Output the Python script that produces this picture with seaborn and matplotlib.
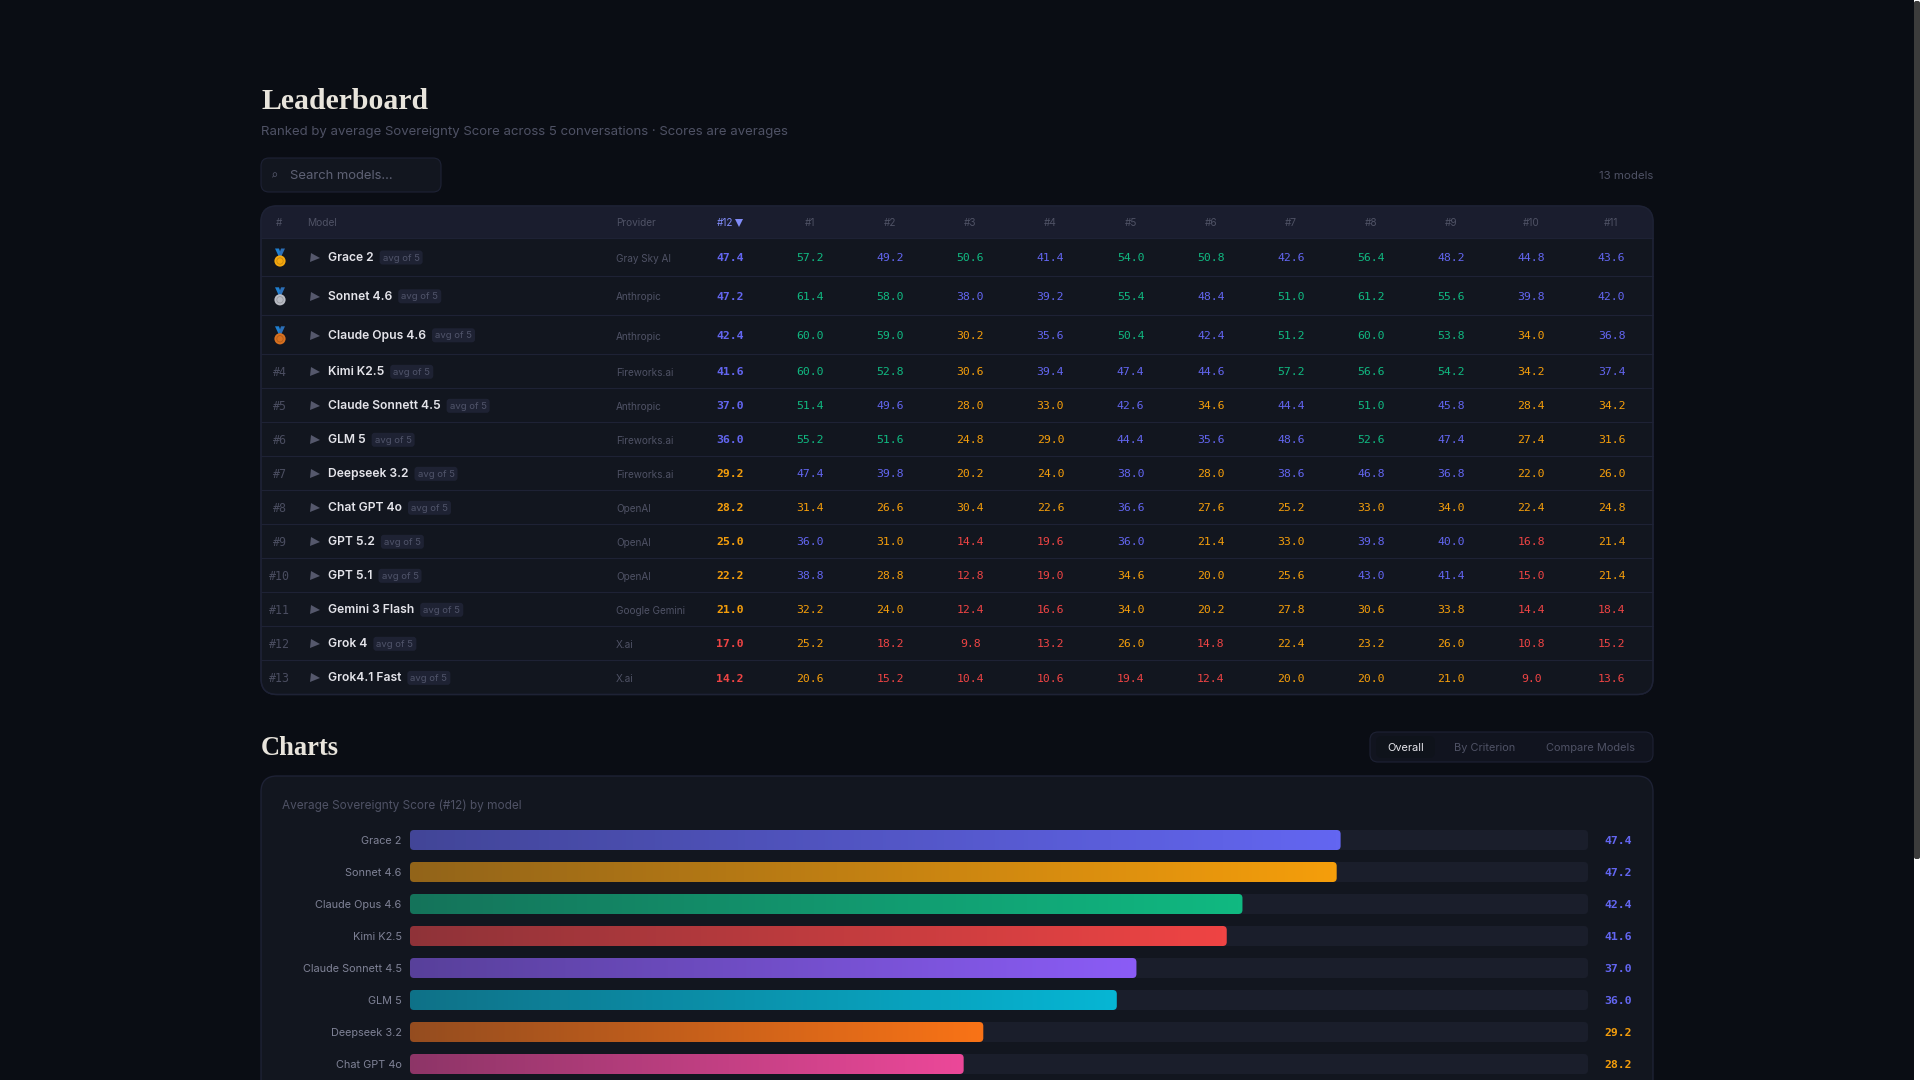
import matplotlib
matplotlib.use("Agg")
import matplotlib.pyplot as plt
import seaborn as sns
import numpy as np
from matplotlib import font_manager
from matplotlib.colors import LinearSegmentedColormap, to_rgb
from matplotlib.ft2font import FT2Font
from matplotlib.patches import FancyBboxPatch, Rectangle, Circle, Polygon

# --- data ---
models = ["Grace 2", "Sonnet 4.6", "Claude Opus 4.6", "Kimi K2.5", "Claude Sonnett 4.5", "GLM 5",
          "Deepseek 3.2", "Chat GPT 4o", "GPT 5.2", "GPT 5.1", "Gemini 3 Flash", "Grok 4", "Grok4.1 Fast"]
providers = ["Gray Sky AI", "Anthropic", "Anthropic", "Fireworks.ai", "Anthropic", "Fireworks.ai",
             "Fireworks.ai", "OpenAI", "OpenAI", "OpenAI", "Google Gemini", "X.ai", "X.ai"]
overall = [47.4, 47.2, 42.4, 41.6, 37.0, 36.0, 29.2, 28.2, 25.0, 22.2, 21.0, 17.0, 14.2]
col_1 = [57.2, 61.4, 60.0, 60.0, 51.4, 55.2, 47.4, 31.4, 36.0, 38.8, 32.2, 25.2, 20.6]
col_2 = [49.2, 58.0, 59.0, 52.8, 49.6, 51.6, 39.8, 26.6, 31.0, 28.8, 24.0, 18.2, 15.2]
col_3 = [50.6, 38.0, 30.2, 30.6, 28.0, 24.8, 20.2, 30.4, 14.4, 12.8, 12.4, 9.8, 10.4]
col_4 = [41.4, 39.2, 35.6, 39.4, 33.0, 29.0, 24.0, 22.6, 19.6, 19.0, 16.6, 13.2, 10.6]
col_5 = [54.0, 55.4, 50.4, 47.4, 42.6, 44.4, 38.0, 36.6, 36.0, 34.6, 34.0, 26.0, 19.4]
col_6 = [50.8, 48.4, 42.4, 44.6, 34.6, 35.6, 28.0, 27.6, 21.4, 20.0, 20.2, 14.8, 12.4]
col_7 = [42.6, 51.0, 51.2, 57.2, 44.4, 48.6, 38.6, 25.2, 33.0, 25.6, 27.8, 22.4, 20.0]
col_8 = [56.4, 61.2, 60.0, 56.6, 51.0, 52.6, 46.8, 33.0, 39.8, 43.0, 30.6, 23.2, 20.0]
col_9 = [48.2, 55.6, 53.8, 54.2, 45.8, 47.4, 36.8, 34.0, 40.0, 41.4, 33.8, 26.0, 21.0]
col_10 = [44.8, 39.8, 34.0, 34.2, 28.4, 27.4, 22.0, 22.4, 16.8, 15.0, 14.4, 10.8, 9.0]
col_11 = [43.6, 42.0, 36.8, 37.4, 34.2, 31.6, 26.0, 24.8, 21.4, 21.4, 18.4, 15.2, 13.6]
criteria = [col_1, col_2, col_3, col_4, col_5, col_6, col_7, col_8, col_9, col_10, col_11]
criteria_labels = ["#1", "#2", "#3", "#4", "#5", "#6", "#7", "#8", "#9", "#10", "#11"]
bar_colors = ["#6366f1", "#f59e0b", "#10b981", "#ef4444", "#8b5cf6", "#06b6d4", "#f97316", "#ec4899"]
visible_bars = 8
scale_max = 60

# --- look ---
BG = "#0a0d14"
CARD = "#12161f"
HEAD = "#1a1d2e"
LINE = "#1e2235"
TRACK = "#1a1e2b"
MUTED = "#4f5265"
SANS = "Inter"
MONO = "DejaVu Sans Mono"
SERIF = "Liberation Serif"


def px(n):
    return n * 0.72


def score_color(v):
    if v >= 50:
        return "#10b981"
    if v >= 35:
        return "#6366f1"
    if v >= 20:
        return "#f59e0b"
    return "#ef4444"


def round_box(axis, x0, y0, x1, y1, r, face, edge="none", lw=0, z=1):
    box = FancyBboxPatch((x0, y0), x1 - x0, y1 - y0, boxstyle=f"round,pad=0,rounding_size={r}",
                         facecolor=face, edgecolor=edge, linewidth=lw, zorder=z)
    axis.add_patch(box)
    return box


def font_with_glyph(code):
    # first installed family that really has this character
    for entry in font_manager.fontManager.ttflist:
        try:
            if FT2Font(entry.fname).get_char_index(code):
                return entry.name
        except (OSError, RuntimeError):
            continue
    return None


sns.set_theme(style="dark")
plt.rcParams["font.family"] = [SANS, "DejaVu Sans"]

fig = plt.figure(figsize=(19.2, 10.8), dpi=100, facecolor=BG)
page = fig.add_axes([0, 0, 1, 1])
page.set_xlim(0, 1920)
page.set_ylim(1080, 0)
page.axis("off")


def put(x, y, s, **kw):
    # browser text sits about a pixel lower than matplotlib's va=center
    kw.setdefault("va", "center")
    kw.setdefault("zorder", 3)
    return page.text(x, y + 1.1, s, **kw)


LEFT, RIGHT = 261, 1653

# header block
put(LEFT, 100.8, "Leaderboard", family=SERIF, weight="bold", fontsize=px(29.8), color="#e8e4dc")
put(LEFT, 130.5, "Ranked by average Sovereignty Score across 5 conversations · Scores are averages",
    fontsize=px(13.2), color=MUTED)
round_box(page, LEFT, 158, 441, 192, 8, CARD, LINE, 0.8)
glass_font = font_with_glyph(0x2315)
if glass_font:
    put(274, 175, "⌕", family=glass_font, fontsize=px(12), color=MUTED, ha="center")
else:
    page.add_patch(Circle((274.6, 174.5), 2.3, facecolor="none", edgecolor=MUTED, lw=0.8, zorder=3))
    page.plot([273, 271.6], [176.2, 177.8], color=MUTED, lw=0.8, zorder=3)
put(290, 175, "Search models...", fontsize=px(13), color="#5f6275")
put(RIGHT, 175, "13 models", fontsize=px(11.5), color=MUTED, ha="right")

# table frame
row_lines = [237.7, 276.3, 315.3, 354.3, 388.3, 422.3, 456.3, 490.3, 524.3, 558.3, 592.3, 626.3, 660.3, 694.5]
table = round_box(page, LEFT, 206, RIGHT, 694.5, 16, CARD, LINE, 1, z=1)
head = Rectangle((LEFT, 206), RIGHT - LEFT, row_lines[0] - 206, facecolor=HEAD, edgecolor="none", zorder=1.1)
page.add_patch(head)
head.set_clip_path(table)
for y in row_lines[:-1]:
    page.plot([LEFT, RIGHT], [y, y], color=LINE, lw=0.8, zorder=1.2)
outline = round_box(page, LEFT, 206, RIGHT, 694.5, 16, "none", LINE, 1, z=1.3)

head_y = 222
col_x = [810 + 80.15 * i for i in range(11)]
put(279.5, head_y, "#", fontsize=px(10), color=MUTED, ha="center")
put(307.5, head_y, "Model", fontsize=px(10.2), color=MUTED)
put(616, head_y, "Provider", fontsize=px(10), color=MUTED)
put(717, head_y, "#12", fontsize=px(10), color="#818cf8")
page.plot([739], [head_y + 0.8], marker="v", ms=px(8), color="#818cf8", mew=0, zorder=3)
for x, label in zip(col_x, criteria_labels):
    put(x, head_y, label, fontsize=px(10), color=MUTED, ha="center")

medals = ["#f5a80e", "#b8bbc3", "#d8701f"]
renderer = fig.canvas.get_renderer()
for i, model in enumerate(models):
    y = (row_lines[i] + row_lines[i + 1]) / 2
    if i < 3:
        page.add_patch(Polygon([(275, y - 8.5), (279, y - 8.5), (281.5, y - 1), (278.5, y - 1)],
                               facecolor="#1f7fd0", edgecolor="none", zorder=3))
        page.add_patch(Polygon([(285, y - 8.5), (281, y - 8.5), (278.5, y - 1), (281.5, y - 1)],
                               facecolor="#2b6fb8", edgecolor="none", zorder=3))
        page.add_patch(Circle((280, y + 4), 5.6, facecolor=medals[i], edgecolor="none", zorder=3.1))
        page.add_patch(Circle((280, y + 4), 3.2, facecolor="none", edgecolor="#00000030", lw=0.6, zorder=3.2))
    else:
        put(279.5, y, f"#{i + 1}", family=MONO, fontsize=px(11.6), color="#4a4d60", ha="center")
    page.plot([315.2], [y + 0.8], marker=">", ms=px(9), color="#55586c", mew=0, zorder=3)
    name = put(328, y - 0.2, model, fontsize=px(12.1), weight=600, color="#e4e4ea")
    name_end = name.get_window_extent(renderer).x1
    round_box(page, name_end + 6, y - 6.5, name_end + 49, y + 7.5, 3, "#1e2233", z=2)
    put(name_end + 27.5, y, "avg of 5", fontsize=px(9.5), color="#50546a", ha="center")
    put(616, y + 0.6, providers[i], fontsize=px(10), color=MUTED)
    put(729.7, y, f"{overall[i]:.1f}", family=MONO, weight="bold", fontsize=px(11.5),
        color=score_color(overall[i]), ha="center")
    for x, col in zip(col_x, criteria):
        put(x, y, f"{col[i]:.1f}", family=MONO, fontsize=px(11.5), color=score_color(col[i]), ha="center")

# charts header and tabs
put(LEFT, 747.5, "Charts", family=SERIF, weight="bold", fontsize=px(26.5), color="#e8e4dc")
round_box(page, 1370, 732, RIGHT, 762, 8, "#11141f", LINE, 0.8)
round_box(page, 1376, 736, 1435, 758, 6, "#0f131b")
put(1406, 746.5, "Overall", fontsize=px(11), color="#e4e4ea", ha="center")
put(1484.5, 746.5, "By Criterion", fontsize=px(11), color=MUTED, ha="center")
put(1590.5, 746.5, "Compare Models", fontsize=px(11), color=MUTED, ha="center")

# chart card runs off the bottom of the page
round_box(page, LEFT, 776, RIGHT, 1120, 16, CARD, LINE, 1)
put(282, 804.5, "Average Sovereignty Score (#12) by model", fontsize=px(11.8), color=MUTED)

# scrollbar
page.add_patch(Rectangle((1914, 0), 6, 1080, facecolor="white", edgecolor="none", zorder=5))
round_box(page, 1914, 1, 1920, 859, 2, "#3c3c3c", z=6)

# bars
ax = fig.add_axes([410 / 1920, 0, 1178 / 1920, 256 / 1080])
ax.patch.set_alpha(0)
sns.barplot(x=overall[:visible_bars], y=models[:visible_bars], hue=models[:visible_bars],
            palette=bar_colors, width=0.625, legend=False, dodge=False, ax=ax)
ax.set_xlim(0, scale_max)
for side in ax.spines.values():
    side.set_visible(False)
ax.set_xticks([])
ax.set_xlabel("")
ax.set_ylabel("")
ax.grid(False)
ax.tick_params(axis="y", length=0, pad=px(8.4), labelsize=px(10.9), labelcolor="#7f8296")

unit_x = 1178 / scale_max
unit_y = 32
bars = [p for p in ax.patches if p.get_width() > 0]
ylim = ax.get_ylim()
radius = 4 / unit_x
for bar, color in zip(bars, bar_colors):
    x0, y0, w, h = bar.get_x(), bar.get_y(), bar.get_width(), bar.get_height()
    bar.set_visible(False)
    track = FancyBboxPatch((0, y0), scale_max, h, boxstyle=f"round,pad=0,rounding_size={radius}",
                           mutation_aspect=unit_x / unit_y, facecolor=TRACK, edgecolor="none", zorder=1)
    ax.add_patch(track)
    shape = FancyBboxPatch((x0, y0), w, h, boxstyle=f"round,pad=0,rounding_size={radius}",
                           mutation_aspect=unit_x / unit_y, facecolor="none", edgecolor="none", zorder=2)
    ax.add_patch(shape)
    full = np.array(to_rgb(color))
    start = full * 0.55 + np.array(to_rgb(TRACK)) * 0.45
    cmap = LinearSegmentedColormap.from_list("fade", [start, full])
    img = ax.imshow(np.linspace(0, 1, 256)[None, :], extent=[x0, x0 + w, y0 + h, y0], cmap=cmap,
                    aspect="auto", zorder=2, interpolation="bilinear")
    img.set_clip_path(shape)
ax.set_xlim(0, scale_max)
ax.set_ylim(ylim)

for i, v in enumerate(overall[:visible_bars]):
    ax.annotate(f"{v:.1f}", xy=(1, i), xycoords=("axes fraction", "data"), xytext=(px(16), -px(0.8)),
                textcoords="offset points", family=MONO, weight="bold", fontsize=px(11.5),
                color=score_color(v), va="center", annotation_clip=False)

fig.savefig("out.png", dpi=100, facecolor=BG)
